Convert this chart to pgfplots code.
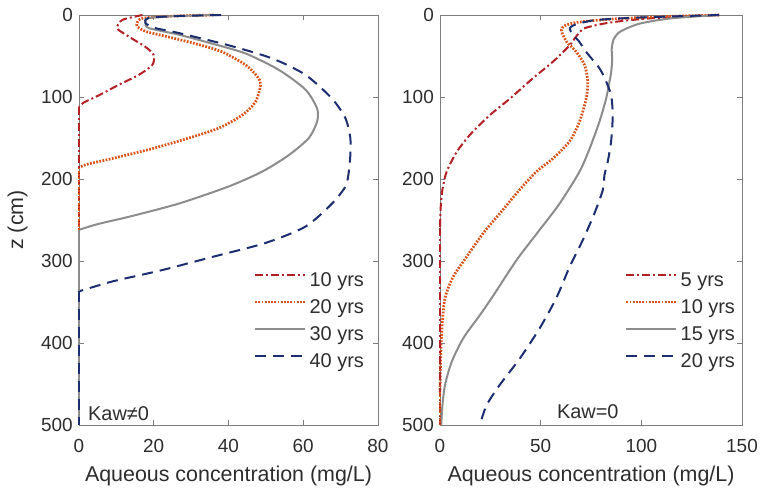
\documentclass[border=0pt]{standalone}
\usepackage{fontspec}
\setmainfont{Liberation Sans}
\usepackage{pgfplots}
\pgfplotsset{compat=1.18}
\definecolor{cred}{RGB}{180,32,38}
\definecolor{corange}{RGB}{217,83,25}
\definecolor{cgray}{RGB}{140,140,140}
\definecolor{cblue}{RGB}{28,45,112}
\definecolor{caxis}{RGB}{125,125,125}
\definecolor{ctext}{RGB}{45,45,45}
\pgfplotsset{
  panel/.style={
    scale only axis, height=410bp,
    y dir=reverse, ymin=0, ymax=500, ytick={0,100,...,500},
    clip=false,
    axis line style={caxis, line width=0.9bp},
    tick style={caxis, line width=0.9bp},
    major tick length=5bp,
    tick align=inside,
    /pgf/number format/assume math mode=true,
    ticklabel style={font=\fontsize{19}{19}\selectfont, text=ctext},
    xticklabel style={yshift=-11bp},
    yticklabel style={xshift=-2.7bp},
    label style={font=\fontsize{21.5}{21.5}\selectfont, text=ctext},
    xlabel={Aqueous concentration (mg/L)},
    xlabel style={at={(axis description cs:0.5,-0.139)}, anchor=base},
    legend style={draw=none, fill=none, font=\fontsize{20}{20}\selectfont, text=ctext,
      anchor=north west, inner sep=0pt, outer sep=0pt, row sep=9bp, column sep=3bp,
      nodes={inner sep=0pt, text height=14bp, text depth=4bp}},
    legend cell align=left,
    legend image code/.code={\draw[##1] (0bp,7bp) -- (50bp,7bp);},
  },
  sA/.style={cred, line width=2bp, dash pattern=on 8bp off 3bp on 2bp off 3bp},
  sB/.style={corange, line width=2.7bp, dash pattern=on 1.8bp off 1.4bp},
  sC/.style={cgray, line width=2bp},
  sD/.style={cblue, line width=2bp, dash pattern=on 11bp off 7bp},
}
\begin{document}
\begin{tikzpicture}
\useasboundingbox (0,0) rectangle (762bp,490bp);
% ---------------- left panel ----------------
\begin{axis}[panel, at={(79bp,65bp)}, anchor=south west, width=299bp,
  xmin=0, xmax=80, xtick={0,20,...,80},
  ylabel={z (cm)},
  ylabel style={at={(axis description cs:-0.2057,0.5)}, anchor=center},
  legend style={at={(axis description cs:0.585,0.371)}},
]
\addplot[sA, smooth, tension=0.45] coordinates {
(17,0) (11.6,6) (10.2,16) (12.5,24) (17.8,39) (20,49) (19.6,61) (16,73)
(10.7,85) (5.3,98) (1.2,107) (0,112)};
\addlegendentry{10 yrs}
\addplot[sB, smooth, tension=0.45] coordinates {
(36,0) (24,1.5) (17,4) (15.6,9) (15.6,14) (17.8,20) (23.2,26) (31.2,35)
(38.3,45) (44.6,61) (47.7,75) (48.6,85) (47.2,106) (43.7,122) (37.4,138)
(29.4,150) (19.6,163) (8.9,175) (2.2,182) (0,186)};
\addlegendentry{20 yrs}
\addplot[sC, smooth, tension=0.45] coordinates {
(37,0) (25,1.5) (18.3,4) (17.8,10) (18.7,16) (26.7,24) (35.7,35) (44.6,47)
(53.5,67) (60.6,91) (63.7,114) (63.7,130) (61.5,150) (56.1,171) (49,191)
(40.1,209) (26.7,230) (13.4,246) (5,255) (0,262)};
\addlegendentry{30 yrs}
\addplot[sD, smooth, tension=0.45] coordinates {
(38,0) (25,1.5) (18.5,4) (17.8,10) (20.5,16) (26.7,22) (40.1,37) (51.7,53)
(60.6,73) (67.7,102) (71.3,126) (72.6,150) (72.6,171) (72.2,191) (71.3,209)
(67.7,230) (60.6,258) (49.9,278) (35.7,295) (22.3,311) (8.9,325) (0,337)};
\addlegendentry{40 yrs}
\addplot[sA, forget plot] coordinates {(0,112) (0,500)};
\addplot[sB, forget plot] coordinates {(0,186) (0,500)};
\addplot[sC, forget plot] coordinates {(0,262) (0,500)};
\addplot[sD, forget plot] coordinates {(0,337) (0,500)};
\node[anchor=base west, inner sep=0pt, font=\fontsize{20}{20}\selectfont, text=ctext]
  at (axis description cs:0.030,0.012) {Kaw≠0};
\end{axis}
% ---------------- right panel ----------------
\begin{axis}[panel, at={(440bp,65bp)}, anchor=south west, width=302bp,
  xmin=0, xmax=150, xtick={0,50,100,150},
  legend style={at={(axis description cs:0.6126,0.371)}},
]
\addplot[sA, smooth, tension=0.45] coordinates {
(138.6,0) (105,4) (85,9) (72,16) (67.7,26) (64.4,37) (56.1,57) (46.2,77)
(34.7,102) (24.8,122) (14.9,146) (8.3,167) (3.3,191) (1.2,213) (0.4,232)
(0,260)};
\addlegendentry{5 yrs}
\addplot[sB, smooth, tension=0.45] coordinates {
(138.6,0) (110,2) (85,5) (68,9) (62,13) (60.3,18) (61,24) (63,33) (67.7,45)
(71.8,61) (73.4,81) (72.6,102) (69.3,130) (64.4,154) (56.1,175) (47.9,191)
(39.6,213) (29.7,242) (21.5,266) (13.2,295) (6.6,319) (2.5,345) (1,380)
(0.3,420) (0,460)};
\addlegendentry{10 yrs}
\addplot[sC, smooth, tension=0.45] coordinates {
(138.6,0) (115,4) (100,10) (93,16) (88.5,22) (86.2,30) (85.3,41) (85.5,55)
(85,70) (84.2,81) (82.5,102) (79.2,130) (74.3,163) (69.3,191) (59.4,230)
(49.5,262) (38,299) (26.5,342) (19.8,366) (11.6,394) (5.8,423) (2.5,451)
(1.2,476) (0.6,500)};
\addlegendentry{15 yrs}
\addplot[sD, smooth, tension=0.45] coordinates {
(138.6,0) (100,3) (78,6) (68,11) (64.5,16) (66,24) (69,32) (72.6,45)
(79.2,65) (82.5,81) (85,98) (85.8,122) (85,154) (83.3,179) (81.7,195)
(80.9,213) (76.7,242) (71,274) (64.4,307) (57.8,345) (49.5,382) (39.6,419)
(29.7,451) (23.1,476) (19.8,500)};
\addlegendentry{20 yrs}
\addplot[sA, forget plot] coordinates {(0,260) (0,500)};
\addplot[sB, forget plot] coordinates {(0,460) (0,500)};
\node[anchor=base west, inner sep=0pt, font=\fontsize{20}{20}\selectfont, text=ctext]
  at (axis description cs:0.387,0.017) {Kaw=0};
\end{axis}
\end{tikzpicture}
\end{document}
